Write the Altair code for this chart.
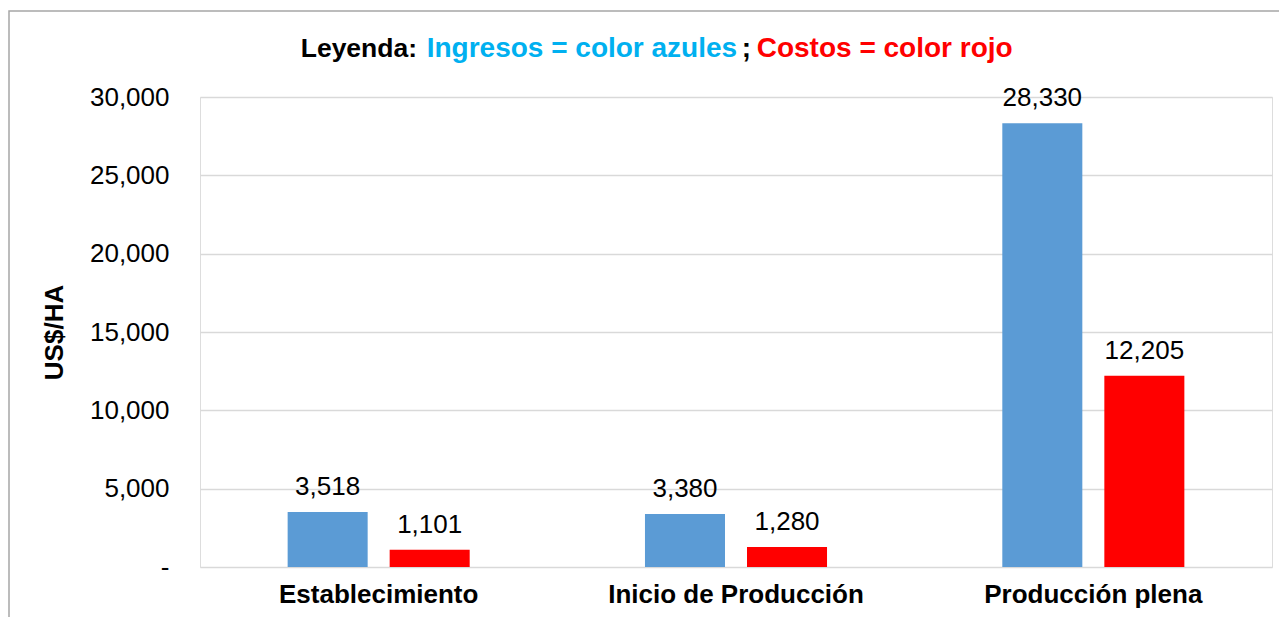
import altair as alt
import pandas as pd

categories = ["Establecimiento", "Inicio de Producción", "Producción plena"]
ingresos = [3518, 3380, 28330]
costos = [1101, 1280, 12205]
series = ["Ingresos", "Costos"]
series_colors = ["#5B9BD5", "#FF0000"]
y_ticks = [0, 5000, 10000, 15000, 20000, 25000, 30000]
title_parts = ["Leyenda:", "Ingresos = color azules", ";", "Costos = color rojo"]
title_colors = ["#000000", "#00B0F0", "#000000", "#FF0000"]
title_sizes = [26.5, 28, 28, 28]
title_x = [100.7, 226.7, 541.7, 556.7]

rows = []
for c, i, k in zip(categories, ingresos, costos):
    rows.append({"cat": c, "serie": "Ingresos", "valor": i})
    rows.append({"cat": c, "serie": "Costos", "valor": k})
df = pd.DataFrame(rows)

FONT = "Liberation Sans"

x_enc = alt.X(
    "cat:N", sort=categories,
    scale=alt.Scale(paddingInner=0, paddingOuter=0),
    axis=alt.Axis(title=None, labelAngle=0, labelFontSize=26, labelFontWeight="bold",
                  labelPadding=14, ticks=False, domain=False, labelColor="black",
                  labelFont=FONT, grid=False, labelLimit=1000),
)
xoff_enc = alt.XOffset("serie:N", sort=series,
                       scale=alt.Scale(paddingInner=0.2157, paddingOuter=0.859))
y_enc = alt.Y(
    "valor:Q",
    scale=alt.Scale(domain=[0, 30000], nice=False),
    axis=alt.Axis(values=y_ticks, title="US$/HA", labelFontSize=26, labelColor="black",
                  labelFont=FONT, labelPadding=31, ticks=False, domain=False,
                  grid=True, gridColor="#D9D9D9", gridWidth=1.5,
                  labelExpr="datum.value == 0 ? '-\u00a0\u00a0' : format(datum.value, ',')",
                  titleFontSize=26, titleFontWeight="bold", titleColor="black",
                  titleFont=FONT, titlePadding=22),
)
color_enc = alt.Color("serie:N", sort=series,
                      scale=alt.Scale(domain=series, range=series_colors), legend=None)

border = alt.Chart(pd.DataFrame({"a": [0]})).mark_rect(
    fill="white", fillOpacity=0, stroke="#A6A6A6", strokeWidth=1.5
).encode(x=alt.value(-191), x2=alt.value(1100), y=alt.value(-86), y2=alt.value(600))

bars = alt.Chart(df).mark_bar().encode(x=x_enc, xOffset=xoff_enc, y=y_enc, color=color_enc)

labels = alt.Chart(df).mark_text(
    fontSize=26, dy=-17, baseline="alphabetic", color="black", font=FONT
).encode(x=x_enc, xOffset=xoff_enc, y=y_enc, text=alt.Text("valor:Q", format=","))

title_layers = []
for part, col, px, fs in zip(title_parts, title_colors, title_x, title_sizes):
    title_layers.append(
        alt.Chart(pd.DataFrame({"t": [part]})).mark_text(
            fontSize=fs, fontWeight="bold", align="left", baseline="alphabetic", font=FONT
        ).encode(text="t:N", x=alt.value(px), y=alt.value(-40.3), color=alt.value(col))
    )

chart = alt.layer(border, bars, labels, *title_layers).properties(
    width=1072, height=470,
    autosize=alt.AutoSizeParams(type="none"),
    padding={"left": 192, "top": 89, "right": 7, "bottom": 50},
    background="white",
).configure_view(strokeWidth=0).configure(font=FONT)

chart.save("out.html", embed_options={"renderer": "svg", "actions": False})
